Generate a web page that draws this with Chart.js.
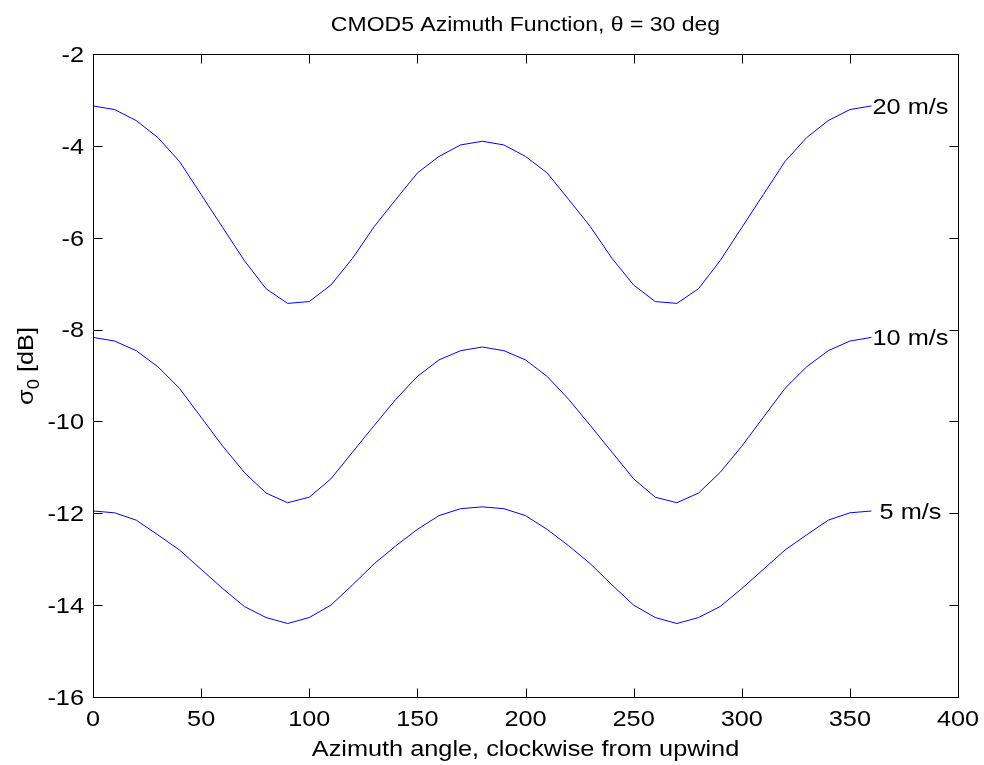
<!DOCTYPE html>
<html>
<head>
<meta charset="utf-8">
<script src="https://cdn.jsdelivr.net/npm/chart.js@4/dist/chart.umd.min.js"></script>
<style>
  html, body { margin: 0; padding: 0; background: #fff; }
  #wrap { width: 984px; height: 765px; }
</style>
</head>
<body>
<div id="wrap"><canvas id="cmod"></canvas></div>
<script>
// azimuth angle, deg
const azimuth = [0, 10, 20, 30, 40, 50, 60, 70, 80, 90, 100, 110, 120, 130, 140, 150, 160, 170, 180,
  190, 200, 210, 220, 230, 240, 250, 260, 270, 280, 290, 300, 310, 320, 330, 340, 350, 360];

// sigma0 [dB] per wind speed
const sigma20 = [-3.13, -3.21, -3.45, -3.82, -4.34, -5.06, -5.78, -6.50, -7.11, -7.43, -7.39, -7.03, -6.45, -5.76, -5.17, -4.59, -4.23, -3.98, -3.90,
  -3.98, -4.23, -4.59, -5.17, -5.76, -6.45, -7.03, -7.39, -7.43, -7.11, -6.50, -5.78, -5.06, -4.34, -3.82, -3.45, -3.21, -3.13];
const sigma10 = [-8.17, -8.25, -8.46, -8.81, -9.28, -9.91, -10.54, -11.11, -11.56, -11.77, -11.65, -11.25, -10.67, -10.09, -9.52, -9.02, -8.66, -8.46, -8.38,
  -8.46, -8.66, -9.02, -9.52, -10.09, -10.67, -11.25, -11.65, -11.77, -11.56, -11.11, -10.54, -9.91, -9.28, -8.81, -8.46, -8.25, -8.17];
const sigma5 = [-11.95, -11.99, -12.15, -12.47, -12.80, -13.22, -13.64, -14.03, -14.27, -14.40, -14.27, -14.00, -13.56, -13.10, -12.71, -12.35, -12.05, -11.90, -11.86,
  -11.90, -12.05, -12.35, -12.71, -13.10, -13.56, -14.00, -14.27, -14.40, -14.27, -14.03, -13.64, -13.22, -12.80, -12.47, -12.15, -11.99, -11.95];

const curveLabels = ['20 m/s', '10 m/s', ' 5 m/s'];
const xTicks = [0, 50, 100, 150, 200, 250, 300, 350, 400];
const yTicks = [-16, -14, -12, -10, -8, -6, -4, -2];

const FONT = '"Liberation Sans", Arial, sans-serif';
const FSIZE = 22;
const SX = 1.15;     // the original text is a bit wider than Arial
const CAP = 7.9;     // half cap height, to centre digits on a tick

const toPoints = arr => arr.map((v, i) => ({ x: azimuth[i], y: v }));

function wideText(ctx, text, x, y, align, size) {
    ctx.save();
    ctx.translate(x, y);
    ctx.scale(SX, 1);
    ctx.font = (size || FSIZE) + 'px ' + FONT;
    ctx.textAlign = align;
    ctx.textBaseline = 'alphabetic';
    ctx.fillText(text, 0, 0);
    ctx.restore();
}

// --- box, inward ticks, labels, titles and curve names ---
const matlabFrame = {
    id: 'matlabFrame',
    afterDraw(chart) {
        const { ctx, chartArea: a, scales } = chart;
        const L = Math.round(a.left) + 0.5, R = Math.round(a.right) + 0.5;
        const T = Math.round(a.top) + 0.5, B = Math.round(a.bottom) + 0.5;
        const len = 9;
        ctx.save();
        ctx.strokeStyle = '#000';
        ctx.lineWidth = 1;
        ctx.strokeRect(L, T, R - L, B - T);

        ctx.beginPath();
        xTicks.forEach(v => {
            const px = Math.round(scales.x.getPixelForValue(v)) + 0.5;
            ctx.moveTo(px, B); ctx.lineTo(px, B - len);
            ctx.moveTo(px, T); ctx.lineTo(px, T + len);
        });
        yTicks.forEach(v => {
            const py = Math.round(scales.y.getPixelForValue(v)) + 0.5;
            ctx.moveTo(L, py); ctx.lineTo(L + len, py);
            ctx.moveTo(R, py); ctx.lineTo(R - len, py);
        });
        ctx.stroke();

        ctx.fillStyle = '#000';
        xTicks.forEach(v => wideText(ctx, String(v), scales.x.getPixelForValue(v), 726, 'center'));
        yTicks.forEach(v => wideText(ctx, String(v), 84, scales.y.getPixelForValue(v) + CAP, 'right'));

        const cx = (a.left + a.right) / 2;
        wideText(ctx, 'CMOD5 Azimuth Function, \u03B8 = 30 deg', cx, 31, 'center', 20);
        wideText(ctx, 'Azimuth angle, clockwise from upwind', cx, 756, 'center');

        // y axis title with subscript
        ctx.save();
        ctx.translate(33, 366);
        ctx.rotate(-Math.PI / 2);
        ctx.font = FSIZE + 'px ' + FONT;
        const w1 = ctx.measureText('\u03C3').width * SX;
        const w3 = ctx.measureText(' [dB]').width * SX;
        ctx.font = '16px ' + FONT;
        const w2 = ctx.measureText('0').width * SX;
        const x0 = -(w1 + w2 + w3) / 2;
        wideText(ctx, '\u03C3', x0, 0, 'left');
        wideText(ctx, '0', x0 + w1, 6, 'left', 16);
        wideText(ctx, ' [dB]', x0 + w1 + w2, 0, 'left');
        ctx.restore();

        // curve names at the last point
        chart.data.datasets.forEach((ds, i) => {
            const last = ds.data[ds.data.length - 1];
            const px = scales.x.getPixelForValue(last.x);
            const py = scales.y.getPixelForValue(last.y);
            wideText(ctx, curveLabels[i], px + 1, py + CAP, 'left');
        });
        ctx.restore();
    }
};

const lineStyle = { borderColor: '#0000ff', borderWidth: 1, pointRadius: 0, tension: 0, fill: false };

new Chart(document.getElementById('cmod').getContext('2d'), {
    type: 'line',
    data: {
        datasets: [
            { label: '20 m/s', data: toPoints(sigma20), ...lineStyle },
            { label: '10 m/s', data: toPoints(sigma10), ...lineStyle },
            { label: '5 m/s', data: toPoints(sigma5), ...lineStyle }
        ]
    },
    options: {
        responsive: true,
        maintainAspectRatio: false,
        animation: false,
        layout: { padding: { left: 0, top: 54, right: 26, bottom: 0 } },
        scales: {
            x: {
                type: 'linear',
                min: 0, max: 400,
                afterBuildTicks: s => { s.ticks = xTicks.map(v => ({ value: v })); },
                afterFit: s => { s.height = 68; },
                grid: { display: false, drawTicks: false },
                border: { display: false },
                ticks: { display: false }
            },
            y: {
                type: 'linear',
                min: -16, max: -2,
                afterBuildTicks: s => { s.ticks = yTicks.map(v => ({ value: v })); },
                afterFit: s => { s.width = 93; },
                grid: { display: false, drawTicks: false },
                border: { display: false },
                ticks: { display: false }
            }
        },
        plugins: {
            legend: { display: false },
            tooltip: { enabled: false }
        }
    },
    plugins: [matlabFrame]
});
</script>
</body>
</html>
